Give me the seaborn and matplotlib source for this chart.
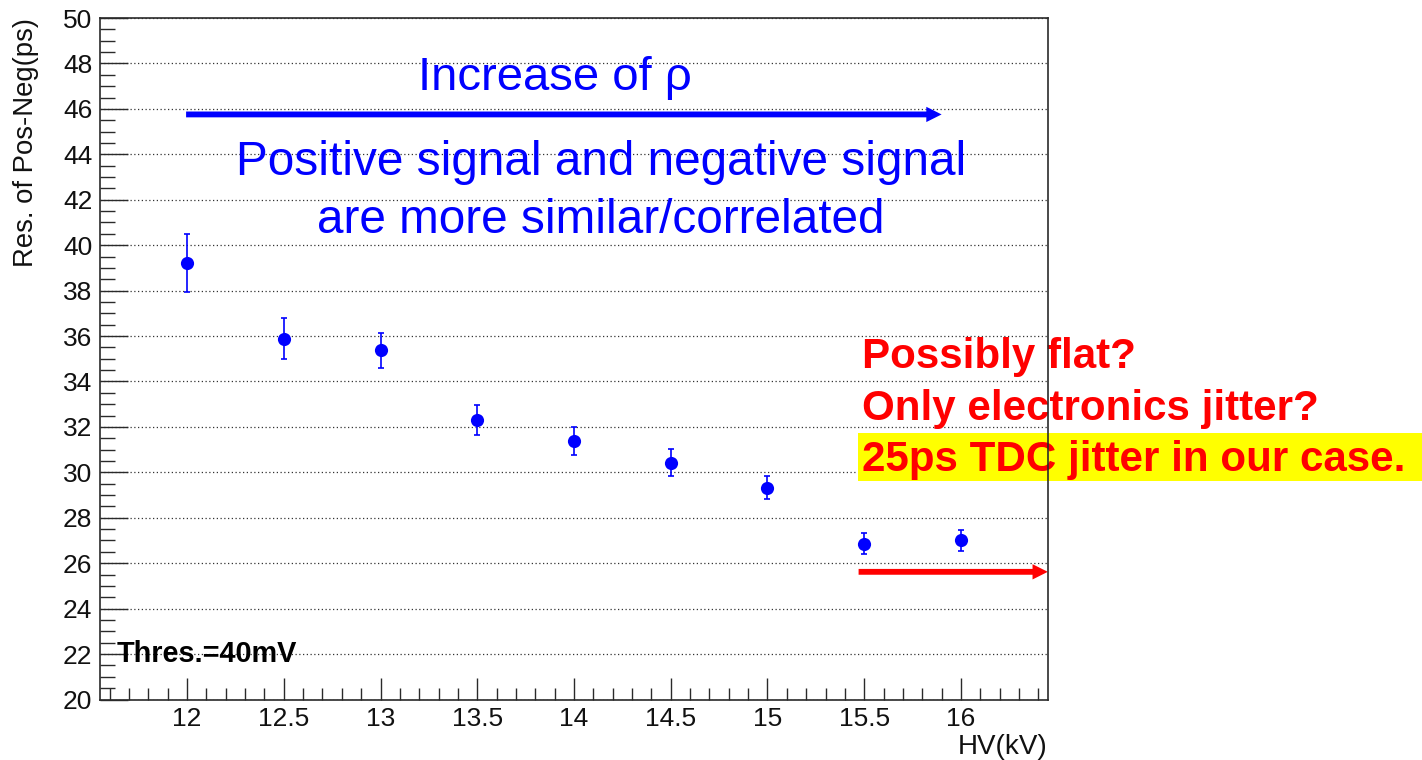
import matplotlib
matplotlib.use("Agg")
import matplotlib.pyplot as plt
import seaborn as sns
import pandas as pd
from matplotlib.ticker import FixedLocator, FixedFormatter, MultipleLocator
from matplotlib.patches import Rectangle

# ---- data ----
hv_kv = [12.0, 12.5, 13.0, 13.5, 14.0, 14.5, 15.0, 15.5, 16.0]
resolution_ps = [39.22, 35.88, 35.37, 32.30, 31.38, 30.43, 29.33, 26.86, 27.00]
resolution_err = [1.27, 0.90, 0.76, 0.65, 0.62, 0.60, 0.52, 0.45, 0.48]

x_tick_values = [12, 12.5, 13, 13.5, 14, 14.5, 15, 15.5, 16]
x_tick_labels = ["12", "12.5", "13", "13.5", "14", "14.5", "15", "15.5", "16"]
y_tick_values = [20, 22, 24, 26, 28, 30, 32, 34, 36, 38, 40, 42, 44, 46, 48, 50]
y_tick_labels = [str(v) for v in y_tick_values]

x_label = "HV(kV)"
y_label = "Res. of Pos-Neg(ps)"
title_arrow = "Increase of ρ"
note_lines = ["Positive signal and negative signal", "are more similar/correlated"]
red_lines = ["Possibly flat?", "Only electronics jitter?", "25ps TDC jitter in our case."]
thres_text = "Thres.=40mV"

# ---- style ----
sns.set_theme(style="ticks")
plt.rcParams["font.family"] = ["Liberation Sans", "DejaVu Sans"]

W, H = 1422, 760
fig = plt.figure(figsize=(W / 100, H / 100), dpi=100)
fig.patch.set_facecolor("white")
ax = fig.add_axes([100 / W, (H - 699.5) / H, 948 / W, 681.5 / H])
ax.set_facecolor("white")

df = pd.DataFrame({"hv": hv_kv, "res": resolution_ps, "err": resolution_err})

ax.errorbar(df["hv"], df["res"], yerr=df["err"], fmt="none", ecolor="#0000ff",
            elinewidth=1.2, capsize=2.4, capthick=1.2, zorder=4)
sns.scatterplot(data=df, x="hv", y="res", ax=ax, color="#0000ff", s=90,
                marker="o", edgecolor="#0000ff", linewidth=0, zorder=5, legend=False)

ax.set_xlim(11.55, 16.45)
ax.set_ylim(20, 50)

ax.xaxis.set_major_locator(FixedLocator(x_tick_values))
ax.xaxis.set_major_formatter(FixedFormatter(x_tick_labels))
ax.xaxis.set_minor_locator(MultipleLocator(0.1))
ax.yaxis.set_major_locator(FixedLocator(y_tick_values))
ax.yaxis.set_major_formatter(FixedFormatter(y_tick_labels))
ax.yaxis.set_minor_locator(MultipleLocator(0.5))

tick_col = "#2a2a2a"
ax.tick_params(axis="y", which="major", direction="in", length=20, width=1.0,
               color=tick_col, labelsize=19, pad=5.5, labelcolor="#111111")
ax.tick_params(axis="y", which="minor", direction="in", length=10.8, width=1.0, color=tick_col)
ax.tick_params(axis="x", which="major", direction="in", length=15.8, width=1.0,
               color=tick_col, labelsize=19, pad=5.5, labelcolor="#111111")
ax.tick_params(axis="x", which="minor", direction="in", length=8.6, width=1.0, color=tick_col)

ax.yaxis.grid(True, which="major", linestyle=(0, (1, 2)), linewidth=0.9, color="#333333")
ax.xaxis.grid(False)
ax.set_axisbelow(True)

for sp in ax.spines.values():
    sp.set_visible(True)
    sp.set_color(tick_col)
    sp.set_linewidth(1.2)
    sp.set_zorder(10)

ax.set_ylabel(y_label, fontsize=19.8, loc="top", color="#111111")
ax.yaxis.set_label_coords(-0.0645, 1.0)
ax.set_xlabel(x_label, fontsize=20, loc="right", color="#111111")
ax.xaxis.set_label_coords(1.0, -0.051)

# ---- annotations ----
blue = "#0000ff"
red = "#ff0000"
ax.text(13.90, 46.83, title_arrow, ha="center", va="baseline", fontsize=34, color=blue, zorder=6)
ax.annotate("", xy=(15.90, 45.755), xytext=(11.995, 45.755),
            arrowprops=dict(arrowstyle="simple,head_length=1.1,head_width=1.1,tail_width=0.42",
                            fc=blue, ec="none", lw=0, shrinkA=0, shrinkB=0, mutation_scale=10),
            annotation_clip=False, zorder=6)
ax.text(14.14, 43.09, note_lines[0], ha="center", va="baseline", fontsize=34.4, color=blue, zorder=6)
ax.text(14.14, 40.54, note_lines[1], ha="center", va="baseline", fontsize=34.4, color=blue, zorder=6)

ax.add_patch(Rectangle((0.7996, 0.3206), 0.6, 0.0704, transform=ax.transAxes,
                       facecolor="#ffff00", edgecolor="none", clip_on=False, zorder=6))
for txt, yb in zip(red_lines, [34.60, 32.32, 30.07]):
    ax.text(15.488, yb, txt, ha="left", va="baseline", fontsize=30.3, fontweight="bold",
            color=red, zorder=7, clip_on=False)

ax.annotate("", xy=(16.449, 25.62), xytext=(15.471, 25.62),
            arrowprops=dict(arrowstyle="simple,head_length=1.1,head_width=1.1,tail_width=0.42",
                            fc=red, ec="none", lw=0, shrinkA=0, shrinkB=0, mutation_scale=10),
            annotation_clip=False, zorder=6)

ax.text(11.638, 21.67, thres_text, ha="left", va="baseline", fontsize=20.8,
        fontweight="bold", color="black", zorder=6)

fig.savefig("out.png", dpi=100, facecolor="white")
